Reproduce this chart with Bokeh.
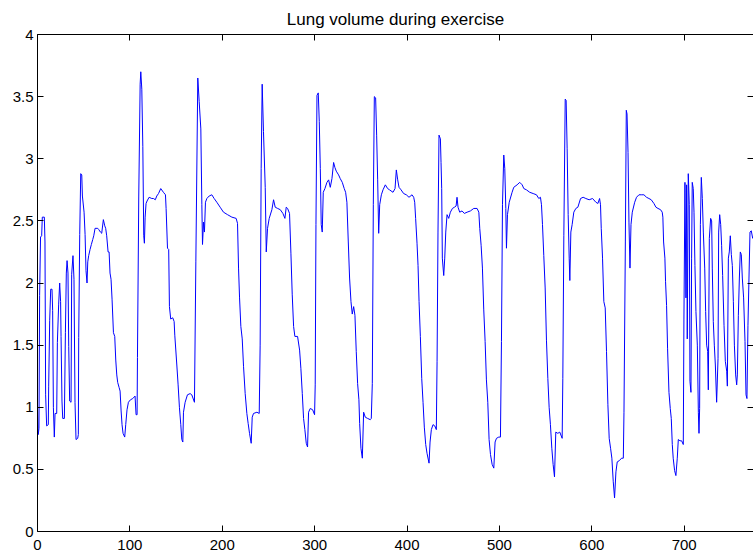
from bokeh.plotting import figure
from bokeh.models import Range1d, FixedTicker, LinearAxis, CustomJSTickFormatter
from bokeh.embed import file_html
from bokeh.resources import INLINE

# ---- data: lung volume (litres) against time ----
seg1_t = [0, 0.8, 1.6, 2.3, 3.3, 4.5, 5.2, 7.4, 8.1, 8.8, 9.9, 11.7, 12.1, 13.2, 14.3, 15.7, 16.4,
          17.2, 18.2, 19.0, 20.8, 21.5, 22.9, 24.0, 25.0, 25.5, 26.5, 27.3, 29.1, 30.2, 31.2, 32.0,
          33.0, 33.8, 34.8, 36.3, 37.0, 38.4, 39.5, 40.6, 41.7, 43.5, 44.2, 44.6, 45.7, 46.8, 47.9,
          48.6, 50.4, 51.5, 52.5, 53.6, 54.4, 55.4, 56.9, 58.3, 59.8, 60.9, 62.3, 65.2, 66.3, 68.1,
          69.5, 71.3, 72.8, 73.8, 74.9, 76.4, 77.5, 78.5, 79.6, 80.7, 82.2, 83.6, 84.7, 85.8, 86.8,
          88.3, 89.4, 90.5, 91.5, 92.6, 94.4, 95.5, 96.9, 98.4, 100.6, 103.1, 105.6, 106.7, 107.8,
          108.2, 109.6, 111.1, 111.8, 112.9, 114.0, 115.0, 115.7, 116.5, 117.5, 118.6, 120.8]
seg1_v = [1.0, 0.78, 0.83, 1.9, 2.37, 2.38, 2.53, 2.53, 2.33, 1.1, 0.85, 0.86, 1.17, 1.7, 1.95, 1.95, 1.78,
          1.0, 0.76, 0.95, 0.95, 1.52, 1.83, 2.0, 1.85, 1.57, 1.05, 0.91, 0.91, 1.6, 2.08, 2.18,
          2.08, 1.49, 1.05, 1.04, 2.07, 2.22, 2.03, 1.04, 0.74, 0.75, 0.78, 1.56, 2.39, 2.88, 2.87,
          2.7, 2.57, 2.39, 2.1, 2.0, 2.17, 2.22, 2.27, 2.31, 2.35, 2.38, 2.44, 2.44, 2.43, 2.41,
          2.4, 2.51, 2.46, 2.44, 2.38, 2.25, 2.25, 2.08, 2.03, 1.87, 1.6, 1.57, 1.38, 1.26, 1.2,
          1.16, 1.13, 0.97, 0.86, 0.79, 0.76, 0.86, 0.98, 1.04, 1.06, 1.07, 1.09, 0.94, 0.94,
          1.4, 2.7, 3.6, 3.7, 3.56, 3.1, 2.38, 2.32, 2.53, 2.64, 2.66, 2.69]

seg2_t = [123.7, 125.5, 127.5, 129.1, 131.0, 133.4, 136.3, 138.5, 139.2, 140.7, 142.0, 142.8, 144.2,
          146.4, 147.9, 148.6, 150.8, 152.2, 153.6, 155.1, 156.2, 157.3, 158.0, 159.8, 162.3, 165.2,
          167.0, 169.9, 171.4, 173.5, 175.0, 176.8, 177.9, 178.6, 179.7, 180.7, 181.8, 183.3, 185.8,
          188.7, 191.2, 194.1, 197.7, 201.3, 205.7, 210.4, 215.0, 216.5, 217.6, 218.7, 220.1, 221.6,
          223.0, 224.8, 226.6, 228.0, 229.5, 231.3, 232.4, 233.8, 237.5, 240.0, 241.0, 242.1, 243.2,
          244.6, 246.5, 247.6, 249.0, 250.8]
seg2_v = [2.68, 2.68, 2.67, 2.7, 2.72, 2.76, 2.73, 2.71, 2.6, 2.28, 2.27, 1.81, 1.71,
          1.72, 1.69, 1.58, 1.34, 1.18, 1.0, 0.86, 0.74, 0.72, 0.96, 1.04, 1.1, 1.11,
          1.1, 1.04, 2.17, 3.65, 3.46, 3.24, 2.63, 2.31, 2.49, 2.41, 2.65, 2.68, 2.7,
          2.71, 2.68, 2.65, 2.61, 2.57, 2.55, 2.53, 2.52, 2.48, 2.12, 1.88, 1.65, 1.55,
          1.33, 1.11, 0.95, 0.87, 0.79, 0.71, 0.92, 0.95, 0.96, 0.95, 1.5, 2.92, 3.6,
          3.22, 2.77, 2.25, 2.44, 2.52]

seg3_t = [253.7, 255.5, 257.3, 259.9, 262.8, 265.6, 267.8, 269.2, 270.7, 272.8, 274.3, 275.7, 277.2,
          278.6, 281.5, 283.7, 285.1, 286.6, 288.0, 289.4, 290.9, 292.3, 293.4, 295.2, 297.8, 299.9,
          300.6, 301.4, 302.5, 303.9, 305.0, 306.1, 307.1, 308.2, 309.3, 311.1, 313.3, 315.1, 316.9,
          318.7, 320.5, 321.9, 323.4, 325.9, 327.7, 329.9, 332.0, 333.5, 334.9, 336.4, 337.8, 339.3,
          340.7, 342.2, 343.6, 345.0, 346.5, 347.9, 348.7, 350.1, 351.6, 353.0, 354.8, 357.3, 360.2,
          361.3, 362.4, 363.5, 364.6, 366.0, 367.1, 368.2, 369.3, 370.4, 372.2, 374.0, 376.5, 379.0,
          381.0]
seg3_v = [2.59, 2.67, 2.61, 2.6, 2.59, 2.56, 2.52, 2.61, 2.6, 2.56, 2.24, 1.91, 1.65,
          1.57, 1.57, 1.46, 1.31, 1.11, 0.91, 0.82, 0.71, 0.68, 0.96, 0.99, 0.98, 0.94,
          1.18, 2.47, 3.51, 3.53, 3.3, 2.92, 2.47, 2.41, 2.73, 2.76, 2.81, 2.83, 2.77,
          2.84, 2.97, 2.93, 2.9, 2.87, 2.84, 2.81, 2.76, 2.73, 2.65, 2.33, 2.04, 1.85,
          1.75, 1.81, 1.74, 1.45, 1.19, 1.06, 0.87, 0.67, 0.59, 0.96, 0.92, 0.91, 0.9,
          0.91, 1.19, 2.63, 3.5, 3.49, 3.19, 2.83, 2.4, 2.63, 2.71, 2.75, 2.79, 2.76,
          2.75]

seg4_t = [384.8, 387.0, 388.4, 389.9, 391.3, 393.5, 396.3, 399.2, 402.1, 405.4, 407.2, 408.3, 409.3,
          410.8, 411.9, 413.0, 414.4, 415.9, 417.3, 418.7, 420.2, 421.6, 423.8, 424.9, 426.3, 428.1,
          430.0, 431.7, 432.5, 433.5, 434.6, 436.1, 436.8, 437.5, 438.2, 439.7, 440.8, 441.9, 443.3,
          445.1, 446.9, 449.1, 451.3, 453.1, 454.1, 455.2, 457.0, 459.5, 462.0, 465.0, 468.6, 472.2,
          475.8, 477.7, 478.7, 480.2, 481.6, 483.0, 484.5, 485.9, 487.4, 488.8, 490.3, 492.1, 493.9,
          495.3, 496.8, 499.3, 501.1, 502.2, 503.3, 504.7, 505.8, 506.9, 507.6, 508.7, 510.6]
seg4_v = [2.73, 2.76, 2.91, 2.83, 2.77, 2.75, 2.72, 2.71, 2.69, 2.71, 2.69, 2.65, 2.52,
          2.32, 2.14, 1.85, 1.57, 1.23, 1.04, 0.84, 0.7, 0.63, 0.55, 0.72, 0.82, 0.86,
          0.85, 0.82, 1.37, 2.41, 3.19, 3.16, 2.97, 2.76, 2.2, 2.06, 2.2, 2.41, 2.55,
          2.52, 2.57, 2.6, 2.61, 2.62, 2.69, 2.61, 2.57, 2.58, 2.56, 2.57, 2.58, 2.6,
          2.6, 2.57, 2.44, 2.3, 2.12, 1.79, 1.53, 1.22, 1.04, 0.74, 0.62, 0.54, 0.51,
          0.72, 0.75, 0.76, 0.76, 1.53, 2.63, 3.03, 2.92, 2.6, 2.28, 2.55, 2.65]

seg5_t = [513.7, 515.5, 519.1, 522.0, 524.6, 526.4, 529.2, 532.8, 536.5, 540.1, 542.6, 544.4, 545.5,
          546.6, 548.0, 549.5, 550.9, 552.4, 553.8, 555.2, 556.7, 558.1, 559.6, 561.0, 563.2, 565.3,
          567.9, 568.6, 569.7, 571.2, 572.2, 573.3, 574.4, 575.5, 576.2, 577.3, 578.7, 580.5, 582.7,
          584.9, 587.8, 590.6, 593.5, 597.1, 600.8, 604.4, 606.6, 608.4, 609.4, 610.2, 611.6, 613.0,
          614.5, 615.9, 617.4, 618.8, 620.3, 621.7, 623.2, 624.6, 626.1, 627.5, 629.7, 632.2, 634.1,
          634.8, 636.3, 637.3, 638.1, 639.2, 640.2, 641.3]
seg5_v = [2.73, 2.77, 2.79, 2.81, 2.79, 2.76, 2.75, 2.73, 2.72, 2.71, 2.68, 2.69, 2.63,
          2.47, 2.22, 1.96, 1.54, 1.23, 1.0, 0.86, 0.67, 0.54, 0.44, 0.8, 0.79, 0.8,
          0.75, 1.23, 2.38, 3.48, 3.47, 3.08, 2.55, 2.2, 2.02, 2.41, 2.47, 2.57, 2.6,
          2.61, 2.68, 2.69, 2.68, 2.67, 2.68, 2.65, 2.64, 2.68, 2.63, 2.44, 2.2, 1.85,
          1.8, 1.45, 1.02, 0.75, 0.67, 0.59, 0.4, 0.27, 0.48, 0.56, 0.57, 0.59, 0.59,
          0.96, 2.33, 3.39, 3.36, 3.05, 2.49, 2.12]

seg6_t = [642.4, 643.8, 646.4, 648.4, 651.0, 653.5, 656.4, 659.2, 661.8, 664.3, 667.2, 669.4, 671.6,
          674.4, 676.2, 676.9, 677.7, 679.1, 679.8, 680.9, 682.0, 683.5, 684.9, 686.0, 687.1, 688.1,
          689.6, 691.0, 692.5, 693.6, 695.4, 697.2, 699.0, 699.7, 700.8, 701.9, 702.6, 703.3, 704.4,
          705.5, 706.2, 707.3, 708.0, 708.7, 709.8, 710.6, 711.6, 712.7, 714.2, 715.3, 716.0, 716.7,
          717.5, 718.5, 719.6, 720.7, 722.2, 723.2, 724.3, 725.4, 726.1, 727.2, 728.6, 729.7, 730.4,
          731.5, 732.6, 733.7, 735.1, 736.6, 737.3, 738.4, 739.5, 740.5, 741.6, 743.1, 744.5, 746.0,
          746.7, 747.8, 748.8, 749.9, 751.0, 752.1, 753.2, 754.3, 755.7, 756.8, 757.5, 758.6, 759.7,
          760.7, 761.8, 762.9, 764.3, 765.8, 766.9, 767.9, 769.0, 770.1, 771.2, 772.6, 774.1, 775.2]
seg6_v = [2.47, 2.57, 2.65, 2.69, 2.71, 2.71, 2.71, 2.69, 2.68, 2.67, 2.64, 2.61, 2.6,
          2.59, 2.57, 2.53, 2.33, 2.2, 2.01, 1.82, 1.47, 1.12, 0.99, 0.91, 0.7, 0.59,
          0.49, 0.45, 0.59, 0.74, 0.73, 0.73, 0.7, 1.71, 2.81, 1.88, 2.79, 1.55, 2.88,
          2.63, 1.21, 1.12, 2.2, 2.81, 2.76, 2.57, 2.14, 1.77, 1.5, 0.96, 0.79, 0.99,
          2.47, 2.85, 2.68, 2.41, 2.12, 1.77, 1.5, 1.45, 1.14, 2.36, 2.52, 2.5, 2.12,
          1.69, 1.5, 1.34, 1.04, 1.39, 2.41, 2.55, 2.47, 2.3, 2.06, 1.66, 1.37, 1.29,
          1.17, 2.2, 2.25, 2.38, 2.23, 2.14, 1.85, 1.5, 1.26, 1.18, 1.26, 1.74, 2.04,
          2.25, 2.23, 2.04, 1.88, 1.53, 1.1, 1.07, 1.66, 2.04, 2.41, 2.42, 2.36, 2.38]

x_ticks = [0, 100, 200, 300, 400, 500, 600, 700]
y_ticks = [0, 0.5, 1, 1.5, 2, 2.5, 3, 3.5, 4]
title_text = "Lung volume during exercise"

time = seg1_t + seg2_t + seg3_t + seg4_t + seg5_t + seg6_t
volume = seg1_v + seg2_v + seg3_v + seg4_v + seg5_v + seg6_v

FONT = "Liberation Sans"

p = figure(width=753, height=557, output_backend="svg", toolbar_location=None,
           x_range=Range1d(0, 775), y_range=Range1d(0, 4),
           min_border_left=37, min_border_right=0, min_border_top=34, min_border_bottom=26,
           background_fill_color="white", border_fill_color="white")
p.outline_line_color = None
p.xgrid.visible = False
p.ygrid.visible = False

p.title.text = title_text
p.title.text_font = FONT
p.title.text_font_size = "17px"
p.title.text_font_style = "normal"
p.title.text_color = "black"
p.title.align = "center"
p.title.standoff = 12

fmt_code = "return String(tick)"


def style_axis(ax, ticks, show_labels=True, show_line=True):
    ax.ticker = FixedTicker(ticks=ticks)
    ax.formatter = CustomJSTickFormatter(code=fmt_code)
    ax.major_tick_in = 6
    ax.major_tick_out = 0
    ax.minor_tick_in = 0
    ax.minor_tick_out = 0
    ax.major_tick_line_color = "black"
    ax.axis_line_color = "black" if show_line else None
    ax.major_label_text_font = FONT
    if show_labels:
        ax.major_label_text_color = "black"
        ax.major_label_text_font_size = "15px"
        ax.major_label_standoff = 4
    else:
        ax.major_label_text_color = None
        ax.major_label_text_font_size = "0px"
        ax.major_label_standoff = 0


style_axis(p.xaxis[0], x_ticks)
style_axis(p.yaxis[0], y_ticks)
p.xaxis[0].major_label_standoff = 8

top_axis = LinearAxis()
style_axis(top_axis, x_ticks, show_labels=False)
p.add_layout(top_axis, "above")

right_axis = LinearAxis()
style_axis(right_axis, y_ticks, show_labels=False, show_line=False)
p.add_layout(right_axis, "right")

p.line(time, volume, line_color="#0000ff", line_width=1)

open("out.html", "w").write(file_html(p, INLINE))
